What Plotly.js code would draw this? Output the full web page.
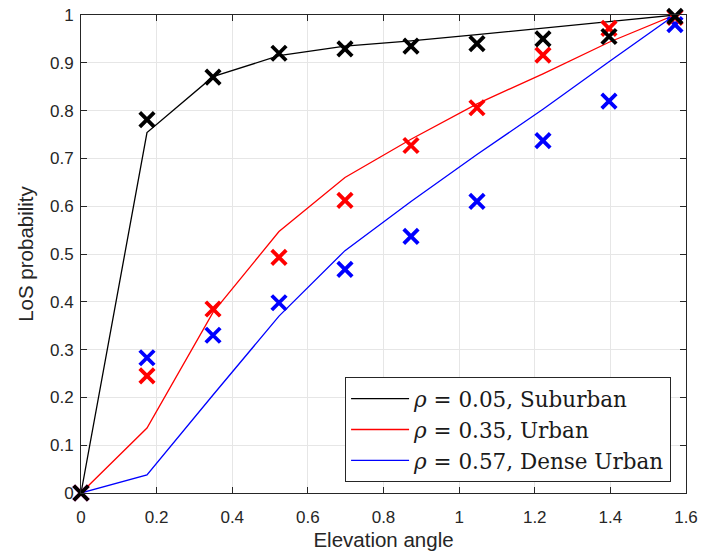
<!DOCTYPE html>
<html>
<head>
<meta charset="utf-8">
<script src="https://cdn.plot.ly/plotly-3.0.1.min.js"></script>
<style>html,body{margin:0;padding:0;background:#fff;}</style>
</head>
<body>
<div id="chart" style="width:702px;height:551px;"></div>
<script>
// Elevation angles (radians), 0..90 degrees in 10-degree steps
const angles = [0, 0.1745, 0.3491, 0.5236, 0.6981, 0.8727, 1.0472, 1.2217, 1.3963, 1.5708];

// Model curves
const suburbanLine = [0, 0.754, 0.871, 0.915, 0.935, 0.946, 0.959, 0.972, 0.986, 1.0];
const urbanLine    = [0, 0.136, 0.378, 0.547, 0.660, 0.740, 0.814, 0.877, 0.943, 1.0];
const denseLine    = [0, 0.038, 0.205, 0.370, 0.507, 0.610, 0.708, 0.803, 0.902, 1.0];

// Simulated points
const suburbanPts = [0, 0.781, 0.870, 0.920, 0.929, 0.935, 0.940, 0.950, 0.955, 0.997];
const urbanPts    = [0, 0.245, 0.385, 0.493, 0.612, 0.727, 0.806, 0.916, 0.972, 0.995];
const densePts    = [0, 0.283, 0.330, 0.398, 0.468, 0.537, 0.610, 0.737, 0.820, 0.980];

const legendNames = [
  '<i>ρ</i> = 0.05, Suburban',
  '<i>ρ</i> = 0.35, Urban',
  '<i>ρ</i> = 0.57, Dense Urban'
];
const xTicks = [0, 0.2, 0.4, 0.6, 0.8, 1, 1.2, 1.4, 1.6];
const xTickText = ['0', '0.2', '0.4', '0.6', '0.8', '1', '1.2', '1.4', '1.6'];
const yTicks = [0, 0.1, 0.2, 0.3, 0.4, 0.5, 0.6, 0.7, 0.8, 0.9, 1];
const yTickText = ['0', '0.1', '0.2', '0.3', '0.4', '0.5', '0.6', '0.7', '0.8', '0.9', '1'];

const lineW = 1.3;
function lineTrace(y, color, name) {
  return {x: angles, y: y, mode: 'lines', name: name,
          line: {color: color, width: lineW}, cliponaxis: false};
}
function markerTrace(y, color) {
  return {x: angles, y: y, mode: 'markers', showlegend: false,
          marker: {symbol: 'x-thin-open', size: 14.5, color: color,
                   line: {color: color, width: 3.8}},
          cliponaxis: false};
}

const data = [
  lineTrace(suburbanLine, '#000000', legendNames[0]),
  lineTrace(urbanLine, '#ff0000', legendNames[1]),
  lineTrace(denseLine, '#0000ff', legendNames[2]),
  markerTrace(densePts, '#0000ff'),
  markerTrace(urbanPts, '#ff0000'),
  markerTrace(suburbanPts, '#000000')
];

const sans = 'Liberation Sans, Arial, sans-serif';
const axisCommon = {
  showgrid: true, gridcolor: '#e6e6e6', gridwidth: 1,
  zeroline: false, showline: true, linecolor: '#262626', linewidth: 1,
  mirror: 'ticks', ticks: 'inside', ticklen: 6, tickcolor: '#262626',
  tickfont: {family: sans, size: 17, color: '#262626'},
  tickmode: 'array'
};

const layout = {
  width: 702, height: 551,
  margin: {l: 80.5, r: 15.5, t: 15, b: 57.7},
  paper_bgcolor: '#ffffff', plot_bgcolor: '#ffffff',
  xaxis: Object.assign({}, axisCommon, {
    range: [0, 1.6], tickvals: xTicks, ticktext: xTickText,
    ticklabelstandoff: 9,
    title: {text: 'Elevation angle', standoff: 6,
            font: {family: sans, size: 20.5, color: '#262626'}}
  }),
  yaxis: Object.assign({}, axisCommon, {
    range: [0, 1], tickvals: yTicks, ticktext: yTickText,
    ticklabelstandoff: 3,
    title: {text: 'LoS probability', standoff: 10,
            font: {family: sans, size: 20.5, color: '#262626'}}
  }),
  showlegend: true,
  legend: {
    x: 0.4365, y: 0.2425, xanchor: 'left', yanchor: 'top',
    bgcolor: '#ffffff', bordercolor: '#262626', borderwidth: 1,
    font: {family: 'DejaVu Serif, Liberation Serif, serif', size: 21.5, color: '#1a1a1a'},
    itemwidth: 58, tracegroupgap: 0
  }
};

Plotly.newPlot('chart', data, layout, {displayModeBar: false, staticPlot: true});
</script>
</body>
</html>
